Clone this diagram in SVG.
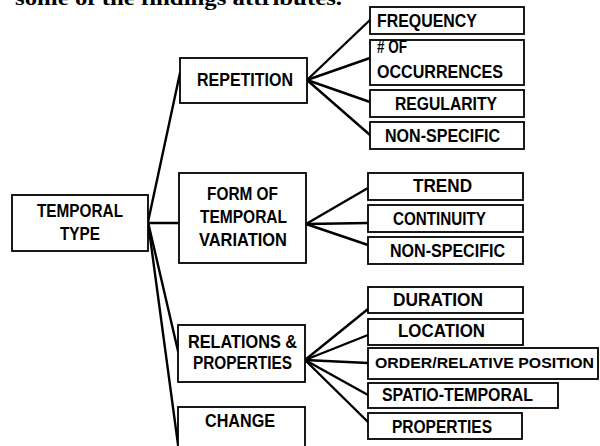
<svg xmlns="http://www.w3.org/2000/svg" width="600" height="446" viewBox="0 0 600 446">
<style>
.box{fill:#fff;stroke:#000;stroke-width:1.8}
.t{font-family:"Liberation Sans",Arial,sans-serif;font-weight:bold;font-size:18px;fill:#000}
.t.sm{font-size:15.5px}
.cap{font-family:"Liberation Serif","Times New Roman",serif;font-weight:bold;font-size:20px;fill:#000}
.con line{stroke:#000;stroke-width:2.4;stroke-linecap:round}
</style>
<rect width="600" height="446" fill="#fff"/>
<text class="cap" x="15" y="5" textLength="327" lengthAdjust="spacingAndGlyphs">some of the findings attributes.</text>
<g id="connectors" class="con">
<line x1="148" y1="222" x2="180" y2="73"/>
<line x1="148" y1="223" x2="179" y2="223"/>
<line x1="148" y1="222" x2="178" y2="351"/>
<line x1="148" y1="222" x2="179" y2="452"/>
<line x1="307" y1="80" x2="370" y2="20"/>
<line x1="307" y1="80" x2="370" y2="58"/>
<line x1="307" y1="80" x2="370" y2="102"/>
<line x1="307" y1="80" x2="370" y2="135"/>
<line x1="306" y1="224" x2="368" y2="188"/>
<line x1="306" y1="224" x2="368" y2="223"/>
<line x1="306" y1="224" x2="368" y2="245"/>
<line x1="305" y1="360" x2="368" y2="309"/>
<line x1="305" y1="360" x2="368" y2="335"/>
<line x1="305" y1="360" x2="368" y2="363"/>
<line x1="305" y1="360" x2="368" y2="395"/>
<line x1="305" y1="360" x2="368" y2="422"/>
</g>
<g id="temporal-type"><rect class="box" x="12" y="195" width="136" height="56"/>
<text class="t" x="37" y="217" textLength="86" lengthAdjust="spacingAndGlyphs">TEMPORAL</text>
<text class="t" x="60" y="240" textLength="40" lengthAdjust="spacingAndGlyphs">TYPE</text></g>
<g id="repetition"><rect class="box" x="180" y="58" width="127" height="45"/>
<text class="t" x="197" y="86" textLength="96" lengthAdjust="spacingAndGlyphs">REPETITION</text></g>
<g id="form"><rect class="box" x="179" y="173" width="127" height="90"/>
<text class="t" x="207" y="200" textLength="71" lengthAdjust="spacingAndGlyphs">FORM OF</text>
<text class="t" x="200" y="223" textLength="87" lengthAdjust="spacingAndGlyphs">TEMPORAL</text>
<text class="t" x="199" y="246" textLength="88" lengthAdjust="spacingAndGlyphs">VARIATION</text></g>
<g id="relations"><rect class="box" x="178" y="325" width="127" height="57"/>
<text class="t" x="188" y="348" textLength="109" lengthAdjust="spacingAndGlyphs">RELATIONS &amp;</text>
<text class="t" x="193" y="369" textLength="99" lengthAdjust="spacingAndGlyphs">PROPERTIES</text></g>
<g id="change"><rect class="box" x="178" y="407" width="127" height="50"/>
<text class="t" x="205" y="427" textLength="70" lengthAdjust="spacingAndGlyphs">CHANGE</text></g>
<g id="frequency"><rect class="box" x="370" y="7" width="154" height="27"/>
<text class="t" x="377" y="27" textLength="100" lengthAdjust="spacingAndGlyphs">FREQUENCY</text></g>
<g id="occurrences"><rect class="box" x="370" y="40" width="154" height="45"/>
<text class="t" x="377" y="53" textLength="30" lengthAdjust="spacingAndGlyphs"># OF</text>
<text class="t" x="377" y="78" textLength="126" lengthAdjust="spacingAndGlyphs">OCCURRENCES</text></g>
<g id="regularity"><rect class="box" x="370" y="90" width="154" height="27"/>
<text class="t" x="395" y="110" textLength="102" lengthAdjust="spacingAndGlyphs">REGULARITY</text></g>
<g id="nonspecific1"><rect class="box" x="370" y="122" width="154" height="27"/>
<text class="t" x="385" y="142" textLength="115" lengthAdjust="spacingAndGlyphs">NON-SPECIFIC</text></g>
<g id="trend"><rect class="box" x="368" y="173" width="155" height="27"/>
<text class="t" x="413" y="192" textLength="59" lengthAdjust="spacingAndGlyphs">TREND</text></g>
<g id="continuity"><rect class="box" x="368" y="205" width="155" height="27"/>
<text class="t" x="393" y="225" textLength="93" lengthAdjust="spacingAndGlyphs">CONTINUITY</text></g>
<g id="nonspecific2"><rect class="box" x="368" y="237" width="155" height="27"/>
<text class="t" x="390" y="257" textLength="115" lengthAdjust="spacingAndGlyphs">NON-SPECIFIC</text></g>
<g id="duration"><rect class="box" x="368" y="287" width="155" height="26"/>
<text class="t" x="393" y="306" textLength="90" lengthAdjust="spacingAndGlyphs">DURATION</text></g>
<g id="location"><rect class="box" x="368" y="319" width="155" height="26"/>
<text class="t" x="398" y="337" textLength="87" lengthAdjust="spacingAndGlyphs">LOCATION</text></g>
<g id="order"><rect class="box" x="368" y="348" width="230" height="31"/>
<text class="t sm" x="375" y="368" textLength="219" lengthAdjust="spacingAndGlyphs">ORDER/RELATIVE POSITION</text></g>
<g id="spatio"><rect class="box" x="368" y="383" width="190" height="25"/>
<text class="t" x="382" y="401" textLength="151" lengthAdjust="spacingAndGlyphs">SPATIO-TEMPORAL</text></g>
<g id="properties"><rect class="box" x="368" y="413" width="154" height="26"/>
<text class="t" x="392" y="433" textLength="100" lengthAdjust="spacingAndGlyphs">PROPERTIES</text></g>
</svg>
